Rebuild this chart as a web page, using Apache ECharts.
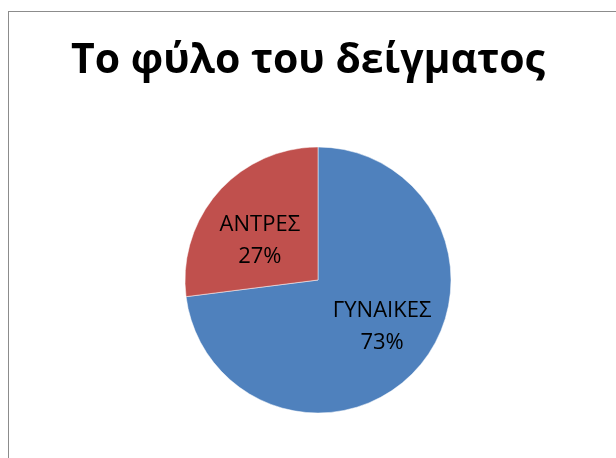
<!DOCTYPE html>
<html>
<head>
<meta charset="utf-8">
<script src="https://cdn.jsdelivr.net/npm/echarts@6/dist/echarts.min.js"></script>
<style>
  html, body { margin: 0; padding: 0; background: #fff; }
  #frame {
    position: absolute; left: 8px; top: 11px; width: 640px; height: 480px;
    border: 1px solid #8c8c8c; box-sizing: border-box;
  }
  #chart { position: absolute; left: 0; top: 0; width: 616px; height: 458px; }
</style>
</head>
<body>
<div id="frame"></div>
<div id="chart"></div>
<script>
const titleText = "Το φύλο του δείγματος";
const categories = ["ΓΥΝΑΙΚΕΣ", "ΑΝΤΡΕΣ"];
const shares = [73, 27];
const sliceColors = ["#4F81BD", "#C0504D"];
// small nudges so labels sit where Excel put them
const labelShift = [[12, 1], [-6, 7]];

const myChart = echarts.init(document.getElementById("chart"));
const option = {
  animation: false,
  title: {
    text: titleText,
    left: "center",
    top: 36,
    textStyle: {
      fontFamily: "Open Sans",
      fontWeight: "bold",
      fontSize: 41,
      color: "#000"
    }
  },
  series: [{
    type: "pie",
    center: [318, 280],
    radius: 133,
    startAngle: 90,
    clockwise: true,
    data: categories.map((name, i) => ({
      name: name,
      value: shares[i],
      itemStyle: { color: sliceColors[i] }
    })),
    itemStyle: { borderColor: "#fff", borderWidth: 0.5 },
    label: {
      show: true,
      position: "inner",
      formatter: "{b}\n{d}%",
      fontFamily: "Open Sans",
      fontSize: 22,
      lineHeight: 32,
      color: "#000"
    },
    labelLayout: (params) => ({
      dx: labelShift[params.dataIndex][0],
      dy: labelShift[params.dataIndex][1]
    }),
    labelLine: { show: false },
    emphasis: { disabled: true }
  }]
};
myChart.setOption(option);
</script>
</body>
</html>
